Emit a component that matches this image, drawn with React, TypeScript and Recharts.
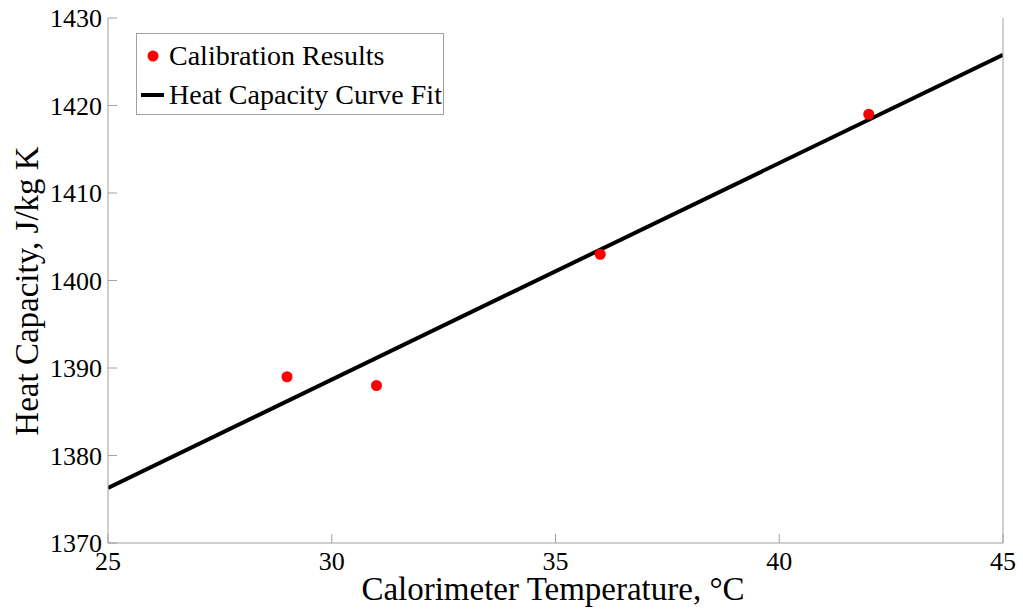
import React from 'react';
import { ComposedChart, Line, Scatter, XAxis, YAxis } from 'recharts';

const tempTicks = [25, 30, 35, 40, 45];
const heatTicks = [1370, 1380, 1390, 1400, 1410, 1420, 1430];

const calibTemps = [29, 31, 36, 42];
const calibHeat = [1389, 1388, 1403, 1419];

const fitTemps = [25, 45];
const fitHeat = [1376.3, 1425.8];

const calibData = calibTemps.map((t, i) => ({ t, cp: calibHeat[i] }));
const fitData = fitTemps.map((t, i) => ({ t, cp: fitHeat[i] }));

const font = '"Liberation Serif", "Times New Roman", serif';
const axisGray = '#a0a0a0';

const XTick = (p: any) => (
  <text x={p.x} y={p.y} dy="0.71em" textAnchor="middle" fontFamily={font} fontSize={26} fill="#000">
    {p.payload.value}
  </text>
);

const YTick = (p: any) => (
  <text x={p.x} y={p.y} dy="0.36em" textAnchor="end" fontFamily={font} fontSize={26} fill="#000">
    {p.payload.value}
  </text>
);

const LegendBox = () => (
  <div
    style={{
      position: 'absolute',
      left: 136,
      top: 33,
      width: 306,
      height: 80,
      border: `1px solid ${axisGray}`,
      background: '#fff',
      fontFamily: font,
      fontSize: 28,
      lineHeight: 1,
      color: '#000',
    }}
  >
    <div style={{ display: 'flex', alignItems: 'center', height: 40, marginTop: 2 }}>
      <svg width={32} height={20}>
        <circle cx={16} cy={10} r={5.5} fill="#ff0000" />
      </svg>
      <span>Calibration Results</span>
    </div>
    <div style={{ display: 'flex', alignItems: 'center', height: 38 }}>
      <svg width={32} height={20}>
        <line x1={4} y1={10} x2={27} y2={10} stroke="#000" strokeWidth={4} />
      </svg>
      <span>Heat Capacity Curve Fit</span>
    </div>
  </div>
);

export default function App() {
  return (
    <div style={{ position: 'absolute', left: 0, top: 0, width: 1023, height: 609, background: '#fff' }}>
      <ComposedChart width={1023} height={609} margin={{ top: 18, right: 0, bottom: 0, left: 0 }}>
        <XAxis
          xAxisId="bottom"
          dataKey="t"
          type="number"
          domain={[25, 45]}
          ticks={tempTicks}
          allowDataOverflow
          height={66}
          stroke={axisGray}
          tickSize={-9}
          tickMargin={18}
          tick={<XTick />}
          label={{
            content: () => (
              <text x={553} y={600} textAnchor="middle" fontFamily={font} fontSize={33} fill="#000">
                Calorimeter Temperature, °C
              </text>
            ),
          }}
        />
        <XAxis
          xAxisId="top"
          orientation="top"
          type="number"
          domain={[25, 45]}
          ticks={tempTicks}
          allowDataOverflow
          height={0}
          stroke={axisGray}
          tickSize={-9}
          tick={false}
        />
        <YAxis
          yAxisId="left"
          dataKey="cp"
          type="number"
          domain={[1370, 1430]}
          ticks={heatTicks}
          allowDataOverflow
          width={108}
          stroke={axisGray}
          tickSize={-9}
          tickMargin={15}
          tick={<YTick />}
          label={{
            content: () => (
              <text
                x={0}
                y={0}
                transform="translate(38,291) rotate(-90)"
                textAnchor="middle"
                fontFamily={font}
                fontSize={33}
                fill="#000"
              >
                Heat Capacity, J/kg K
              </text>
            ),
          }}
        />
        <YAxis
          yAxisId="right"
          orientation="right"
          type="number"
          domain={[1370, 1430]}
          ticks={heatTicks}
          allowDataOverflow
          width={20}
          stroke={axisGray}
          tickSize={-9}
          tick={false}
        />
        <Line
          xAxisId="bottom"
          yAxisId="left"
          data={fitData}
          dataKey="cp"
          type="linear"
          stroke="#000"
          strokeWidth={4}
          dot={false}
          activeDot={false}
          isAnimationActive={false}
        />
        <Scatter
          xAxisId="bottom"
          yAxisId="left"
          data={calibData}
          dataKey="cp"
          fill="#ff0000"
          shape={(p: any) => <circle cx={p.cx} cy={p.cy} r={5.5} fill="#ff0000" />}
          isAnimationActive={false}
        />
      </ComposedChart>
      <LegendBox />
    </div>
  );
}
